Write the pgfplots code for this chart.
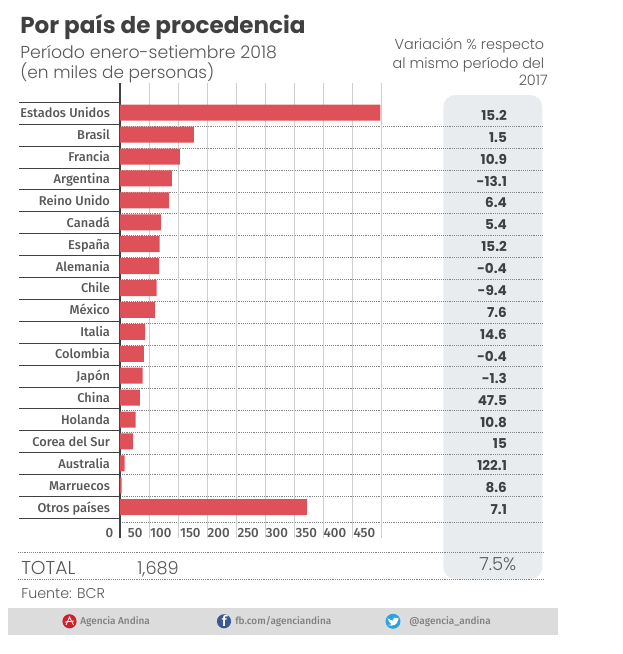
\documentclass[border=0pt]{standalone}
\usepackage{fontspec}
\usepackage{pgfplots}
\usepackage{pgfplotstable}
\pgfplotsset{compat=1.18}
\setmainfont{Fira Sans}
\newfontfamily\popb{Poppins}[UprightFont=* Bold]
\newfontfamily\popl{Poppins}[UprightFont=* Light]
\newfontfamily\fira{Fira Sans}[UprightFont=* Medium]
\definecolor{ink}{HTML}{404040}
\definecolor{soft}{HTML}{585858}
\definecolor{barred}{HTML}{DF5159}
\definecolor{panel}{HTML}{E9ECEF}
\definecolor{gridc}{HTML}{CFCFCF}
\definecolor{band}{HTML}{DCDCDC}
\definecolor{andina}{HTML}{CE1F2B}
\definecolor{fbblue}{HTML}{3B5998}
\definecolor{twblue}{HTML}{2AA3DF}
\newcommand\fs[1]{\fontsize{#1}{#1}\selectfont}

\pgfplotstableread[col sep=comma]{
pais,valor,fila,var,xvar
Estados Unidos,447,18,15.2,665
Brasil,127,17,1.5,665
Francia,103,16,10.9,665
Argentina,89,15,-13.1,665
Reino Unido,84,14,6.4,665
Canadá,70,13,5.4,665
España,68,12,15.2,665
Alemania,67,11,-0.4,665
Chile,63,10,-9.4,665
México,60,9,7.6,665
Italia,43,8,14.6,665
Colombia,41,7,-0.4,665
Japón,39,6,-1.3,665
China,34,5,47.5,665
Holanda,27,4,10.8,665
Corea del Sur,22,3,15,665
Australia,8,2,122.1,665
Marruecos,3,1,8.6,665
Otros países,321,0,7.1,665
}\datos

\begin{document}
\begin{tikzpicture}[x=0.75pt,y=-0.75pt]
\useasboundingbox (0,0) rectangle (623,654);
% panel behind the right column
\fill[panel,rounded corners=9pt] (443.3,95) rectangle (542.3,579);
% dotted row lines
\foreach \yy in {126.3,148.2,170,191.9,213.7,235.6,257.5,279.3,301.2,323,344.9,366.8,388.6,410.5,432.3,454.3,474.3,496.3,522.3}
  \draw[ink!65,line width=0.5pt,dash pattern=on 0.7pt off 0.7pt] (120,\yy) -- (542.3,\yy);
\foreach \yy in {552.3,579}
  \draw[ink!65,line width=0.5pt,dash pattern=on 0.7pt off 0.7pt] (18,\yy) -- (543,\yy);
% solid lines beside the names
\foreach \k in {0,...,19}
  \draw[ink,line width=0.75pt] (19,102.3+21.9*\k) -- (120,102.3+21.9*\k);

\coordinate (o) at (120,537.7);
\begin{axis}[
    at={(o)},anchor=south west,
    scale only axis,
    width=196.5pt,
    height=341.25pt,
    xmin=0,xmax=450,
    ymin=-1.39,ymax=19.369,
    clip=false,
    axis y line=left,
    axis x line=bottom,
    axis line style={-},
    x axis line style={draw=none},
    y axis line style={draw=ink,line width=1.2pt},
    xmajorgrids,
    grid style={gridc,line width=0.75pt},
    major tick length=0pt,
    xtick={0,50,...,450},
    ytick={18,17,...,0},
    yticklabels from table={\datos}{pais},
    /pgf/number format/assume math mode=true,
    xticklabel style={font=\fira\fs{10},text=soft,anchor=east,yshift=3.2pt,xshift=-1.5pt},
    yticklabel style={font=\fira\fs{9.6},text=soft,anchor=east,xshift=-4pt,yshift=-0.9pt,text height=7pt,text depth=1.5pt},
]
\addplot[xbar,bar width=12pt,bar shift=0pt,fill=barred,draw=none]
    table[col sep=comma,x=valor,y=fila] {\datos};
\addplot[draw=none,mark=none,point meta=explicit symbolic,nodes near coords,
    nodes near coords style={anchor=east,inner sep=0pt,yshift=-1.9pt,font=\popb\fs{10.2},text=ink}]
    table[col sep=comma,x=xvar,y=fila,meta=var] {\datos};
\end{axis}

% titles
\node[anchor=base west,inner sep=0pt,text=ink,font=\popb\fs{17.3}] at (20,33) {Por país de procedencia};
\node[anchor=base west,inner sep=0pt,text=soft,font=\popl\fs{13}] at (20,58.5) {Período enero-setiembre 2018};
\node[anchor=base west,inner sep=0pt,text=soft,font=\popl\fs{12.7}] at (20,78) {(en miles de personas)};
\node[anchor=base east,inner sep=0pt,text=soft,font=\popl\fs{10.8}] at (544.5,49.3) {Variación \% respecto};
\node[anchor=base east,inner sep=0pt,text=soft,font=\popl\fs{10.8}] at (544.5,68) {al mismo período del};
\node[anchor=base east,inner sep=0pt,text=soft,font=\popl\fs{10.8}] at (548,85.7) {2017};
% totals
\node[anchor=base west,inner sep=0pt,text=soft,font=\popl\fs{14}] at (21,574) {TOTAL};
\node[anchor=base west,inner sep=0pt,text=soft,font=\popl\fs{13.3}] at (137,574) {1,689};
\node[anchor=base west,inner sep=0pt,text=soft,font=\popl\fs{13.5}] at (479,570.7) {7.5\%};
\node[anchor=base west,inner sep=0pt,text=soft,font=\popl\fs{10.7}] at (21,598.3) {Fuente: BCR};
% footer band
\fill[band] (8,608) rectangle (558,634.7);
\fill[andina] (69.5,621.3) circle[radius=5.3pt];
\draw[white,line width=0.6pt] (66,625) -- (69.5,617) -- (73.5,625) (65,622) -- (74,621);
\node[anchor=base west,inner sep=0pt,text=gray,font=\fira\fs{7.5}] at (80,624.3) {Agencia Andina};
\fill[fbblue] (224,621.3) circle[radius=5.3pt];
\node[anchor=base,inner sep=0pt,text=white,font=\fira\fs{11}] at (224.5,626.5) {f};
\node[anchor=base west,inner sep=0pt,text=gray,font=\fira\fs{7.5}] at (235,624.3) {fb.com/agenciandina};
\fill[twblue] (393,621.3) circle[radius=5.6pt];
\fill[white] (387.5,618) .. controls (390,620) and (391,620.5) .. (393,620.5)
   .. controls (393,617.5) and (396,616.5) .. (398,618.3) -- (399,618.3) -- (398,620)
   .. controls (398,624) and (393,627) .. (387.5,625) .. controls (390,625) and (391,624.5) .. (391.5,624)
   .. controls (389.5,623.5) and (388.5,621) .. (387.5,618) -- cycle;
\node[anchor=base west,inner sep=0pt,text=gray,font=\fira\fs{7.5}] at (409,624.3) {@agencia\_andina};
\end{tikzpicture}
\end{document}
